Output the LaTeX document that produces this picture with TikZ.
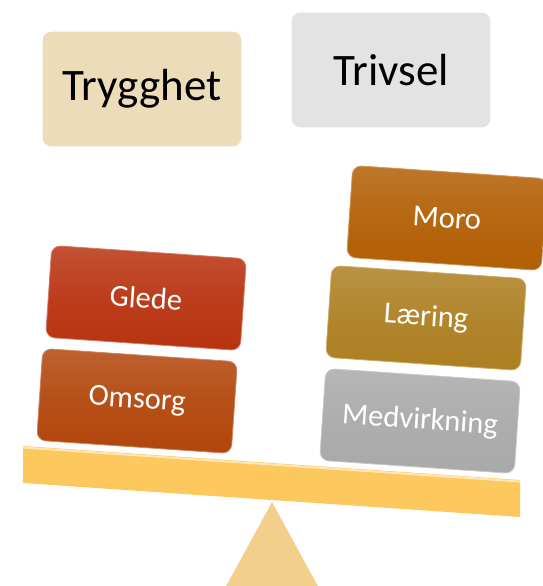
\documentclass[tikz,border=0pt]{standalone}
\usepackage{fontspec}
\setmainfont{Carlito}

\definecolor{gledefarge}{HTML}{B83310}
\definecolor{omsorgfarge}{HTML}{B2460C}
\definecolor{moroFarge}{HTML}{B25F04}
\definecolor{laeringfarge}{HTML}{AD7F22}
\definecolor{medvfarge}{HTML}{A9A9A9}
\definecolor{tryggfarge}{HTML}{EDDCB9}
\definecolor{trivfarge}{HTML}{E3E3E3}
\definecolor{bjelke}{HTML}{FDC95E}
\definecolor{fot}{HTML}{F2CF8A}

\tikzset{
	blokk/.style={rounded corners=9pt, minimum width=195pt, minimum height=92pt, inner sep=0pt,
		text=white, font=\fontsize{30.5}{36}\selectfont, rotate=-3.9},
	overskrift/.style={rounded corners=9pt, minimum width=200pt, minimum height=116pt, inner sep=0pt,
		draw=white, line width=1.2pt, font=\fontsize{45}{54}\selectfont}
}

\newcommand{\vektblokk}[5]{
	\node[blokk, top color=#4!85!white, bottom color=#4, middle color=#4!95!white, draw=#4!65!white, line width=0.8pt] (#1) at (#2, #3) {#5};
}

\begin{document}
\begin{tikzpicture}[x=1pt, y=-1pt]
\useasboundingbox (0,0) rectangle (542,586);

\node[overskrift, fill=tryggfarge] (trygghet) at (142,89) {Trygghet};
\node[overskrift, fill=trivfarge] (trivsel) at (391,70) {Trivsel};

\pgfmathsetmacro{\bjVx}{23}
\pgfmathsetmacro{\bjHx}{520}
\pgfmathsetmacro{\bjVy}{446}
\pgfmathsetmacro{\bjHy}{480}
\pgfmathsetmacro{\bjTykk}{37}

\fill[fot] (272,502) -- (320,590) -- (224,590) -- cycle;
\fill[bjelke]
	(\bjVx,\bjVy) -- (\bjHx,\bjHy) -- (\bjHx,\bjHy+\bjTykk) -- (\bjVx,\bjVy+\bjTykk) -- cycle;
\draw[bjelke!45!white, line width=2pt] (\bjVx,\bjVy+1.5) -- (\bjHx,\bjHy+1.5);

\vektblokk{omsorg}{137}{401}{omsorgfarge}{Omsorg}
\vektblokk{glede}{146}{298}{gledefarge}{Glede}
\vektblokk{medvirkning}{420}{421}{medvfarge}{Medvirkning}
\vektblokk{laering}{426}{318}{laeringfarge}{Læring}
\vektblokk{moro}{447}{218}{moroFarge}{Moro}
\end{tikzpicture}
\end{document}
